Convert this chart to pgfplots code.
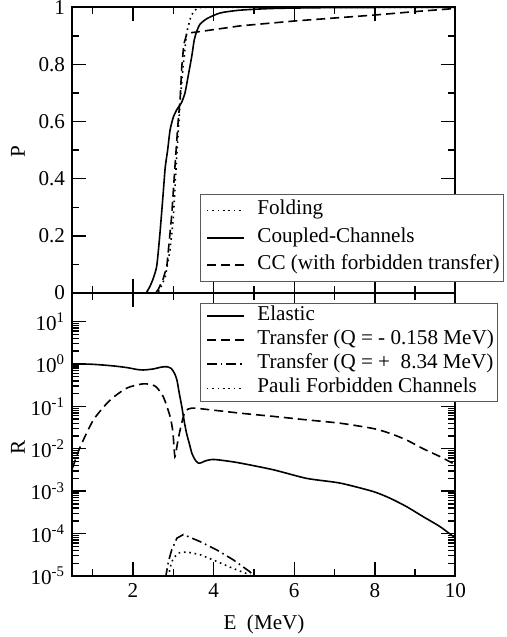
\documentclass[border=0pt]{standalone}
\usepackage{fontspec}
\setmainfont{Liberation Serif}
\usepackage{pgfplots}
\pgfplotsset{compat=1.18}
\begin{document}
\fontsize{10.6}{12.7}\selectfont
\begin{tikzpicture}[x=1bp,y=1bp]
\path[use as bounding box] (-36.25,-30.5) rectangle (217.25,288);
\pgfplotsset{
 every axis/.append style={
  scale only axis, width=191.5bp, xmin=0.5, xmax=10,
  axis line style={line width=1bp},
  major tick length=7bp, minor tick length=3.5bp,
  every tick/.style={line width=0.7bp, black},
  xtick={2,4,6,8,10}, minor xtick={1,3,5,7,9},
  tick align=inside,
  tick label style={font=\fontsize{10.6}{12.7}\selectfont},
  legend cell align=left,
  legend image code/.code={\path (0bp,0bp); \draw[line width=0.8bp,##1] (1.5bp,0bp) -- (20bp,0bp);},
 },
}
\begin{axis}[at={(0,141.5bp)}, anchor=south west, height=142.85bp,
  ymin=0, ymax=1, ytick={0,0.2,0.4,0.6,0.8,1}, yticklabels={0,0.2,0.4,0.6,0.8,1},
  minor ytick={0.1,0.3,0.5,0.7,0.9}, xticklabels={},
  ylabel={P},
  every axis y label/.style={at={(axis description cs:-0.1423,0.494)},rotate=90,anchor=center},
  legend style={at={(0.333,0.347)}, anchor=north west, draw=black!65,
    inner xsep=1.3bp, inner ysep=2.3bp, row sep=2.2bp,
    font=\fontsize{10.6}{12.7}\selectfont,
    nodes={inner xsep=0.5bp, inner ysep=1bp, text height=7bp, text depth=2.5bp},
    /tikz/every odd column/.append style={column sep=5.9bp}},
]
\addplot[black, line width=0.8bp, dash pattern=on 0.8bp off 1.9bp] coordinates {
(0.5,0) (2.6,0) (2.66,0.01) (2.8,0.055) (2.92,0.15) (3.0,0.26) (3.05,0.39) (3.09,0.49)
(3.13,0.58) (3.18,0.69) (3.25,0.80) (3.33,0.91) (3.42,0.96) (3.5,0.985) (3.6,0.997) (3.7,1) (10,1)};
\addlegendentry{Folding}
\addplot[black, line width=0.8bp, smooth, tension=0.4] coordinates {
(0.5,0) (2.25,0) (2.35,0.006) (2.42,0.023) (2.5,0.05) (2.59,0.095) (2.67,0.21) (2.75,0.35)
(2.8,0.44) (2.86,0.50) (2.92,0.57) (3.0,0.615) (3.1,0.645) (3.2,0.665) (3.29,0.70) (3.37,0.76)
(3.46,0.83) (3.52,0.886) (3.58,0.915) (3.66,0.94) (3.83,0.96) (4.16,0.98) (4.66,0.99)
(5.5,0.996) (7,0.999) (10,1)};
\addlegendentry{Coupled-Channels}
\addplot[black, line width=0.8bp, dash pattern=on 4.5bp off 2.5bp] coordinates {
(0.5,0) (2.55,0) (2.62,0.01) (2.75,0.05) (2.84,0.093) (2.96,0.27) (3.04,0.44) (3.12,0.6)
(3.17,0.68) (3.21,0.79) (3.26,0.87) (3.33,0.905) (3.38,0.91) (3.66,0.915) (4.66,0.935)
(6,0.952) (8,0.973) (9,0.985) (10,0.996)};
\addlegendentry{CC (with forbidden transfer)}
\end{axis}
\begin{axis}[at={(0,0)}, anchor=south west, height=141.5bp,
  ymode=log, ymin=1e-5, ymax=47,
  ytick={1e-5,1e-4,1e-3,1e-2,1e-1,1,10},
  yticklabels={10\textsuperscript{-5},10\textsuperscript{-4},10\textsuperscript{-3},10\textsuperscript{-2},10\textsuperscript{-1},10\textsuperscript{0},10\textsuperscript{1}},
  xticklabels={2,4,6,8,10},
  xlabel={E\ \ (MeV)}, ylabel={R},
  every axis y label/.style={at={(axis description cs:-0.1423,0.455)},rotate=90,anchor=center},
  every axis x label/.style={at={(axis description cs:0.5,-0.1725)},anchor=center},
  legend style={at={(0.333,0.966)}, anchor=north west, draw=black!65,
    inner xsep=1.3bp, inner ysep=0.65bp, row sep=0.6bp,
    font=\fontsize{10.6}{12.7}\selectfont,
    nodes={inner xsep=0.5bp, inner ysep=1bp, text height=7bp, text depth=2.5bp},
    /tikz/every odd column/.append style={column sep=5.9bp}},
]
\addplot[black, line width=0.8bp, smooth, tension=0.4] coordinates {
(0.5,1.0) (1.0,0.98) (1.5,0.9) (1.85,0.82) (2.1,0.74) (2.26,0.72) (2.5,0.76) (2.7,0.84)
(2.84,0.86) (2.95,0.78) (3.03,0.6) (3.09,0.42) (3.15,0.2) (3.21,0.1) (3.27,0.045) (3.33,0.023)
(3.4,0.013) (3.46,0.0079) (3.54,0.0055) (3.62,0.0046) (3.7,0.0047) (3.8,0.0052) (3.99,0.0056)
(4.3,0.0052) (4.66,0.0046) (5.48,0.0032) (6.31,0.0020) (7.14,0.00155) (7.96,0.00098)
(8.38,0.00068) (8.79,0.00043) (9.2,0.00025) (9.62,0.000145) (10,0.000078)};
\addlegendentry{Elastic}
\addplot[black, line width=0.8bp, dash pattern=on 4.5bp off 2.5bp, smooth, tension=0.4] coordinates {
(0.5,0.0035) (0.69,0.011) (1.02,0.048) (1.43,0.14) (1.85,0.27) (2.26,0.34) (2.55,0.30)
(2.75,0.17) (2.92,0.058) (2.99,0.025) (3.04,0.0065) (3.1,0.013) (3.17,0.028) (3.29,0.074)
(3.46,0.091) (3.91,0.083) (4.66,0.069) (5.48,0.058) (6.31,0.048) (7.14,0.040) (7.96,0.030)
(8.38,0.023) (8.79,0.016) (9.2,0.010) (9.62,0.0065) (10,0.0042)};
\addlegendentry{Transfer (Q = - 0.158 MeV)}
\addplot[black, line width=0.8bp, dash pattern=on 5bp off 2bp on 0.8bp off 2bp] coordinates {
(2.79,0.9e-5) (2.82,1.05e-5) (2.88,2.2e-5) (2.96,4.1e-5) (3.09,7.8e-5) (3.25,9.5e-5)
(3.66,6.5e-5) (4.08,4.1e-5) (4.49,2.4e-5) (4.9,1.26e-5) (5.0,1e-5) (5.05,0.9e-5)};
\addlegendentry{Transfer (Q = +\ \ 8.34 MeV)}
\addplot[black, line width=0.8bp, dash pattern=on 0.8bp off 1.9bp] coordinates {
(2.87,0.95e-5) (2.88,1e-5) (2.95,2.0e-5) (3.0,2.6e-5) (3.13,3.5e-5) (3.33,3.7e-5)
(3.66,3.2e-5) (4.08,2.2e-5) (4.49,1.5e-5) (4.86,1.1e-5) (4.95,0.95e-5)};
\addlegendentry{Pauli Forbidden Channels}
\end{axis}
\end{tikzpicture}
\end{document}
